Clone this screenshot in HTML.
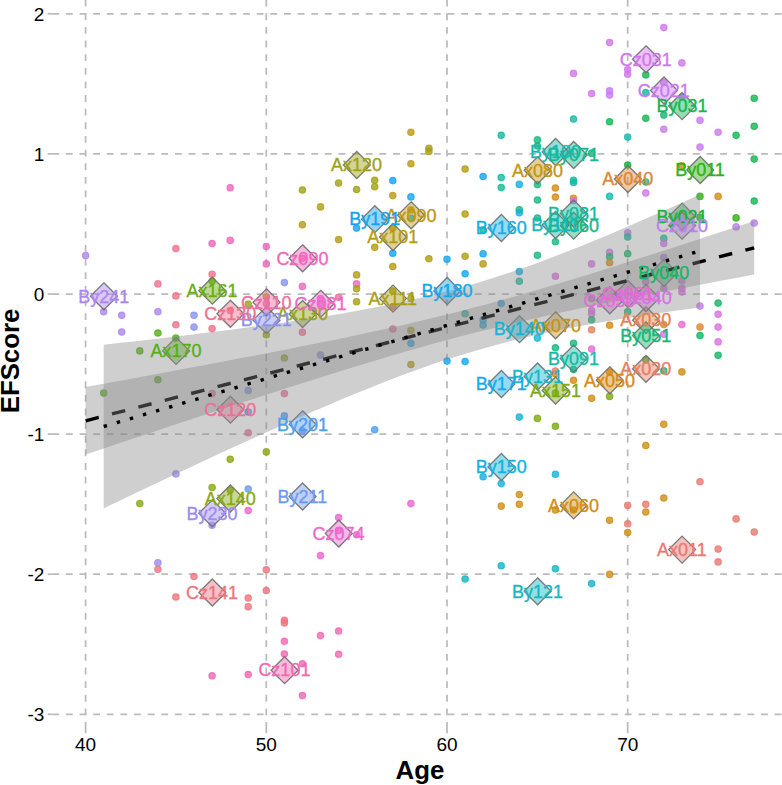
<!DOCTYPE html>
<html><head><meta charset="utf-8"><title>EFScore vs Age</title>
<style>html,body{margin:0;padding:0;background:#fff;width:782px;height:785px;overflow:hidden;font-family:"Liberation Sans",sans-serif}</style></head>
<body>
<svg width="782" height="785" viewBox="0 0 782 785" style="position:absolute;left:0;top:0">
<rect width="782" height="785" fill="#fff"/>
<g stroke="#BBBBBB" stroke-width="1.75" stroke-dasharray="6.815 6.815" fill="none">
<path d="M52.3 13.8H790"/>
<path d="M52.3 153.9H790"/>
<path d="M52.3 294.0H790"/>
<path d="M52.3 434.1H790"/>
<path d="M52.3 574.2H790"/>
<path d="M52.3 714.3H790"/>
<path d="M85.6 728.9V-5"/>
<path d="M266.3 728.9V-5"/>
<path d="M447.0 728.9V-5"/>
<path d="M627.7 728.9V-5"/>
</g>
<g stroke="#BBBBBB" stroke-width="1.75" fill="none">
<path d="M47.7 13.8H52.3"/>
<path d="M47.7 153.9H52.3"/>
<path d="M47.7 294.0H52.3"/>
<path d="M47.7 434.1H52.3"/>
<path d="M47.7 574.2H52.3"/>
<path d="M47.7 714.3H52.3"/>
<path d="M85.6 728.9V733.2"/>
<path d="M266.3 728.9V733.2"/>
<path d="M447.0 728.9V733.2"/>
<path d="M627.7 728.9V733.2"/>
</g>
<g fill-opacity="0.80" stroke-opacity="0.80" stroke-width="1.2">
<circle cx="85.6" cy="255.5" r="3.2" fill="#AE86EF" stroke="#AE86EF"/>
<circle cx="103.7" cy="311.8" r="3.2" fill="#AE86EF" stroke="#AE86EF"/>
<circle cx="121.7" cy="315.3" r="3.2" fill="#AE86EF" stroke="#AE86EF"/>
<circle cx="121.7" cy="332.0" r="3.2" fill="#AE86EF" stroke="#AE86EF"/>
<circle cx="157.9" cy="311.8" r="3.2" fill="#AE86EF" stroke="#AE86EF"/>
<circle cx="175.9" cy="248.6" r="3.2" fill="#EE728D" stroke="#EE728D"/>
<circle cx="157.9" cy="283.9" r="3.2" fill="#EE728D" stroke="#EE728D"/>
<circle cx="175.9" cy="295.9" r="3.2" fill="#EE728D" stroke="#EE728D"/>
<circle cx="175.9" cy="324.8" r="3.2" fill="#EE728D" stroke="#EE728D"/>
<circle cx="194.0" cy="315.3" r="3.2" fill="#8A92EF" stroke="#8A92EF"/>
<circle cx="194.0" cy="327.1" r="3.2" fill="#8A92EF" stroke="#8A92EF"/>
<circle cx="157.9" cy="333.0" r="3.2" fill="#54AF14" stroke="#54AF14"/>
<circle cx="175.9" cy="338.1" r="3.2" fill="#54AF14" stroke="#54AF14"/>
<circle cx="139.8" cy="350.9" r="3.2" fill="#54AF14" stroke="#54AF14"/>
<circle cx="157.9" cy="379.8" r="3.2" fill="#54AF14" stroke="#54AF14"/>
<circle cx="103.7" cy="393.1" r="3.2" fill="#54AF14" stroke="#54AF14"/>
<circle cx="139.8" cy="503.6" r="3.2" fill="#89A814" stroke="#89A814"/>
<circle cx="175.9" cy="473.9" r="3.2" fill="#9E8CEF" stroke="#9E8CEF"/>
<circle cx="157.9" cy="562.7" r="3.2" fill="#9E8CEF" stroke="#9E8CEF"/>
<circle cx="157.9" cy="569.3" r="3.2" fill="#EC7680" stroke="#EC7680"/>
<circle cx="194.0" cy="576.5" r="3.2" fill="#EC7680" stroke="#EC7680"/>
<circle cx="175.9" cy="597.0" r="3.2" fill="#EC7680" stroke="#EC7680"/>
<circle cx="230.2" cy="187.7" r="3.2" fill="#EF67BB" stroke="#EF67BB"/>
<circle cx="302.4" cy="190.0" r="3.2" fill="#A0A214" stroke="#A0A214"/>
<circle cx="338.6" cy="183.1" r="3.2" fill="#A0A214" stroke="#A0A214"/>
<circle cx="356.6" cy="189.5" r="3.2" fill="#A0A214" stroke="#A0A214"/>
<circle cx="374.7" cy="180.3" r="3.2" fill="#A0A214" stroke="#A0A214"/>
<circle cx="374.7" cy="186.7" r="3.2" fill="#A0A214" stroke="#A0A214"/>
<circle cx="392.8" cy="180.6" r="3.2" fill="#14A3EF" stroke="#14A3EF"/>
<circle cx="392.8" cy="195.6" r="3.2" fill="#BC9814" stroke="#BC9814"/>
<circle cx="320.5" cy="206.9" r="3.2" fill="#B39C14" stroke="#B39C14"/>
<circle cx="302.4" cy="224.8" r="3.2" fill="#B39C14" stroke="#B39C14"/>
<circle cx="338.6" cy="239.6" r="3.2" fill="#B39C14" stroke="#B39C14"/>
<circle cx="374.7" cy="247.3" r="3.2" fill="#B39C14" stroke="#B39C14"/>
<circle cx="356.6" cy="228.1" r="3.2" fill="#14A3EF" stroke="#14A3EF"/>
<circle cx="392.8" cy="253.2" r="3.2" fill="#14A3EF" stroke="#14A3EF"/>
<circle cx="392.8" cy="266.5" r="3.2" fill="#B39C14" stroke="#B39C14"/>
<circle cx="356.6" cy="274.9" r="3.2" fill="#B39C14" stroke="#B39C14"/>
<circle cx="356.6" cy="283.9" r="3.2" fill="#EE67C4" stroke="#EE67C4"/>
<circle cx="356.6" cy="288.7" r="3.2" fill="#AA9F14" stroke="#AA9F14"/>
<circle cx="356.6" cy="301.8" r="3.2" fill="#AA9F14" stroke="#AA9F14"/>
<circle cx="212.1" cy="243.5" r="3.2" fill="#EF67BB" stroke="#EF67BB"/>
<circle cx="230.2" cy="240.4" r="3.2" fill="#EF67BB" stroke="#EF67BB"/>
<circle cx="266.3" cy="246.5" r="3.2" fill="#EF67BB" stroke="#EF67BB"/>
<circle cx="266.3" cy="263.9" r="3.2" fill="#EF67BB" stroke="#EF67BB"/>
<circle cx="302.4" cy="258.3" r="3.2" fill="#EF67BB" stroke="#EF67BB"/>
<circle cx="212.1" cy="274.2" r="3.2" fill="#EE728D" stroke="#EE728D"/>
<circle cx="212.1" cy="281.3" r="3.2" fill="#6AAD14" stroke="#6AAD14"/>
<circle cx="284.4" cy="282.6" r="3.2" fill="#8A92EF" stroke="#8A92EF"/>
<circle cx="302.4" cy="286.4" r="3.2" fill="#EF67BB" stroke="#EF67BB"/>
<circle cx="338.6" cy="297.2" r="3.2" fill="#EF6E99" stroke="#EF6E99"/>
<circle cx="266.3" cy="296.7" r="3.2" fill="#95A514" stroke="#95A514"/>
<circle cx="266.3" cy="303.6" r="3.2" fill="#EF6CA5" stroke="#EF6CA5"/>
<circle cx="230.2" cy="310.5" r="3.2" fill="#EE728D" stroke="#EE728D"/>
<circle cx="248.2" cy="304.1" r="3.2" fill="#95A514" stroke="#95A514"/>
<circle cx="320.5" cy="298.5" r="3.2" fill="#EE67C4" stroke="#EE67C4"/>
<circle cx="320.5" cy="303.6" r="3.2" fill="#EE67C4" stroke="#EE67C4"/>
<circle cx="266.3" cy="334.8" r="3.2" fill="#95A514" stroke="#95A514"/>
<circle cx="212.1" cy="328.6" r="3.2" fill="#EE728D" stroke="#EE728D"/>
<circle cx="302.4" cy="332.2" r="3.2" fill="#EF6E99" stroke="#EF6E99"/>
<circle cx="392.8" cy="329.0" r="3.2" fill="#EF6E99" stroke="#EF6E99"/>
<circle cx="284.4" cy="358.0" r="3.2" fill="#95A514" stroke="#95A514"/>
<circle cx="320.5" cy="355.0" r="3.2" fill="#8A92EF" stroke="#8A92EF"/>
<circle cx="248.2" cy="390.5" r="3.2" fill="#8A92EF" stroke="#8A92EF"/>
<circle cx="212.1" cy="393.6" r="3.2" fill="#EF6E99" stroke="#EF6E99"/>
<circle cx="284.4" cy="393.6" r="3.2" fill="#EF6E99" stroke="#EF6E99"/>
<circle cx="248.2" cy="412.0" r="3.2" fill="#4E9EEF" stroke="#4E9EEF"/>
<circle cx="284.4" cy="415.9" r="3.2" fill="#4E9EEF" stroke="#4E9EEF"/>
<circle cx="248.2" cy="432.7" r="3.2" fill="#EF6E99" stroke="#EF6E99"/>
<circle cx="302.4" cy="430.7" r="3.2" fill="#8A92EF" stroke="#8A92EF"/>
<circle cx="374.7" cy="429.7" r="3.2" fill="#4E9EEF" stroke="#4E9EEF"/>
<circle cx="266.3" cy="451.9" r="3.2" fill="#89A814" stroke="#89A814"/>
<circle cx="230.2" cy="459.3" r="3.2" fill="#89A814" stroke="#89A814"/>
<circle cx="212.1" cy="487.5" r="3.2" fill="#89A814" stroke="#89A814"/>
<circle cx="230.2" cy="490.0" r="3.2" fill="#89A814" stroke="#89A814"/>
<circle cx="248.2" cy="489.0" r="3.2" fill="#7198EF" stroke="#7198EF"/>
<circle cx="248.2" cy="510.5" r="3.2" fill="#EC67CE" stroke="#EC67CE"/>
<circle cx="212.1" cy="525.3" r="3.2" fill="#9E8CEF" stroke="#9E8CEF"/>
<circle cx="338.6" cy="517.6" r="3.2" fill="#EC67CE" stroke="#EC67CE"/>
<circle cx="338.6" cy="530.4" r="3.2" fill="#EC67CE" stroke="#EC67CE"/>
<circle cx="356.6" cy="534.8" r="3.2" fill="#EC67CE" stroke="#EC67CE"/>
<circle cx="320.5" cy="555.5" r="3.2" fill="#EC67CE" stroke="#EC67CE"/>
<circle cx="266.3" cy="569.8" r="3.2" fill="#EC7680" stroke="#EC7680"/>
<circle cx="266.3" cy="590.5" r="3.2" fill="#EC7680" stroke="#EC7680"/>
<circle cx="248.2" cy="598.0" r="3.2" fill="#EC7680" stroke="#EC7680"/>
<circle cx="248.2" cy="606.7" r="3.2" fill="#EC7680" stroke="#EC7680"/>
<circle cx="284.4" cy="620.3" r="3.2" fill="#EC7680" stroke="#EC7680"/>
<circle cx="284.4" cy="622.9" r="3.2" fill="#EC7680" stroke="#EC7680"/>
<circle cx="284.4" cy="641.3" r="3.2" fill="#EF69B1" stroke="#EF69B1"/>
<circle cx="284.4" cy="654.0" r="3.2" fill="#EF69B1" stroke="#EF69B1"/>
<circle cx="320.5" cy="635.6" r="3.2" fill="#EF69B1" stroke="#EF69B1"/>
<circle cx="338.6" cy="631.0" r="3.2" fill="#EF69B1" stroke="#EF69B1"/>
<circle cx="338.6" cy="654.3" r="3.2" fill="#EF69B1" stroke="#EF69B1"/>
<circle cx="302.4" cy="663.8" r="3.2" fill="#EF69B1" stroke="#EF69B1"/>
<circle cx="212.1" cy="675.8" r="3.2" fill="#EF69B1" stroke="#EF69B1"/>
<circle cx="248.2" cy="674.5" r="3.2" fill="#EF69B1" stroke="#EF69B1"/>
<circle cx="302.4" cy="695.5" r="3.2" fill="#EF69B1" stroke="#EF69B1"/>
<circle cx="410.9" cy="132.2" r="3.2" fill="#BC9814" stroke="#BC9814"/>
<circle cx="410.9" cy="163.7" r="3.2" fill="#BC9814" stroke="#BC9814"/>
<circle cx="428.9" cy="148.3" r="3.2" fill="#AA9F14" stroke="#AA9F14"/>
<circle cx="428.9" cy="151.4" r="3.2" fill="#AA9F14" stroke="#AA9F14"/>
<circle cx="410.9" cy="196.9" r="3.2" fill="#14A7EE" stroke="#14A7EE"/>
<circle cx="465.1" cy="169.0" r="3.2" fill="#B39C14" stroke="#B39C14"/>
<circle cx="483.1" cy="176.5" r="3.2" fill="#14A7EE" stroke="#14A7EE"/>
<circle cx="501.2" cy="135.3" r="3.2" fill="#14BAA4" stroke="#14BAA4"/>
<circle cx="501.2" cy="177.5" r="3.2" fill="#14BAA4" stroke="#14BAA4"/>
<circle cx="501.2" cy="187.5" r="3.2" fill="#14BA98" stroke="#14BA98"/>
<circle cx="519.3" cy="184.4" r="3.2" fill="#14AFE2" stroke="#14AFE2"/>
<circle cx="537.4" cy="139.9" r="3.2" fill="#14B880" stroke="#14B880"/>
<circle cx="537.4" cy="146.0" r="3.2" fill="#14B880" stroke="#14B880"/>
<circle cx="537.4" cy="184.6" r="3.2" fill="#14B880" stroke="#14B880"/>
<circle cx="537.4" cy="200.0" r="3.2" fill="#14B880" stroke="#14B880"/>
<circle cx="555.4" cy="188.0" r="3.2" fill="#D68A14" stroke="#D68A14"/>
<circle cx="555.4" cy="197.0" r="3.2" fill="#D68A14" stroke="#D68A14"/>
<circle cx="573.5" cy="119.0" r="3.2" fill="#14BAA4" stroke="#14BAA4"/>
<circle cx="573.5" cy="180.3" r="3.2" fill="#14BAA4" stroke="#14BAA4"/>
<circle cx="573.5" cy="182.5" r="3.2" fill="#14BAA4" stroke="#14BAA4"/>
<circle cx="573.5" cy="198.2" r="3.2" fill="#D08E14" stroke="#D08E14"/>
<circle cx="573.5" cy="200.8" r="3.2" fill="#E26DDE" stroke="#E26DDE"/>
<circle cx="573.5" cy="73.4" r="3.2" fill="#D275EB" stroke="#D275EB"/>
<circle cx="591.6" cy="93.6" r="3.2" fill="#D275EB" stroke="#D275EB"/>
<circle cx="591.6" cy="153.4" r="3.2" fill="#14B773" stroke="#14B773"/>
<circle cx="519.3" cy="209.7" r="3.2" fill="#14B880" stroke="#14B880"/>
<circle cx="519.3" cy="212.8" r="3.2" fill="#14AFE2" stroke="#14AFE2"/>
<circle cx="465.1" cy="214.0" r="3.2" fill="#B39C14" stroke="#B39C14"/>
<circle cx="483.1" cy="230.0" r="3.2" fill="#14B880" stroke="#14B880"/>
<circle cx="537.4" cy="218.0" r="3.2" fill="#14B880" stroke="#14B880"/>
<circle cx="555.4" cy="241.7" r="3.2" fill="#14B880" stroke="#14B880"/>
<circle cx="537.4" cy="255.2" r="3.2" fill="#14B880" stroke="#14B880"/>
<circle cx="428.9" cy="258.8" r="3.2" fill="#B39C14" stroke="#B39C14"/>
<circle cx="447.0" cy="259.3" r="3.2" fill="#14A7EE" stroke="#14A7EE"/>
<circle cx="465.1" cy="256.3" r="3.2" fill="#B39C14" stroke="#B39C14"/>
<circle cx="483.1" cy="253.7" r="3.2" fill="#14A7EE" stroke="#14A7EE"/>
<circle cx="483.1" cy="263.9" r="3.2" fill="#B39C14" stroke="#B39C14"/>
<circle cx="465.1" cy="273.7" r="3.2" fill="#14A7EE" stroke="#14A7EE"/>
<circle cx="519.3" cy="271.6" r="3.2" fill="#14AFE2" stroke="#14AFE2"/>
<circle cx="519.3" cy="281.3" r="3.2" fill="#14BA98" stroke="#14BA98"/>
<circle cx="555.4" cy="276.2" r="3.2" fill="#E26DDE" stroke="#E26DDE"/>
<circle cx="591.6" cy="263.9" r="3.2" fill="#DB70E5" stroke="#DB70E5"/>
<circle cx="501.2" cy="303.6" r="3.2" fill="#14A7EE" stroke="#14A7EE"/>
<circle cx="465.1" cy="313.8" r="3.2" fill="#14BAA4" stroke="#14BAA4"/>
<circle cx="483.1" cy="320.0" r="3.2" fill="#14AFE2" stroke="#14AFE2"/>
<circle cx="483.1" cy="325.0" r="3.2" fill="#14AFE2" stroke="#14AFE2"/>
<circle cx="410.9" cy="330.4" r="3.2" fill="#B39C14" stroke="#B39C14"/>
<circle cx="410.9" cy="343.2" r="3.2" fill="#14A7EE" stroke="#14A7EE"/>
<circle cx="410.9" cy="364.5" r="3.2" fill="#B39C14" stroke="#B39C14"/>
<circle cx="447.0" cy="361.1" r="3.2" fill="#14A7EE" stroke="#14A7EE"/>
<circle cx="465.1" cy="361.6" r="3.2" fill="#14A7EE" stroke="#14A7EE"/>
<circle cx="537.4" cy="338.1" r="3.2" fill="#14B4D3" stroke="#14B4D3"/>
<circle cx="555.4" cy="347.8" r="3.2" fill="#14B880" stroke="#14B880"/>
<circle cx="573.5" cy="343.2" r="3.2" fill="#14B880" stroke="#14B880"/>
<circle cx="591.6" cy="310.5" r="3.2" fill="#DB70E5" stroke="#DB70E5"/>
<circle cx="591.6" cy="313.8" r="3.2" fill="#DB70E5" stroke="#DB70E5"/>
<circle cx="591.6" cy="319.7" r="3.2" fill="#14B773" stroke="#14B773"/>
<circle cx="591.6" cy="329.7" r="3.2" fill="#E67E62" stroke="#E67E62"/>
<circle cx="591.6" cy="349.1" r="3.2" fill="#E869D6" stroke="#E869D6"/>
<circle cx="555.4" cy="373.9" r="3.2" fill="#D68A14" stroke="#D68A14"/>
<circle cx="573.5" cy="380.3" r="3.2" fill="#D68A14" stroke="#D68A14"/>
<circle cx="555.4" cy="371.0" r="3.2" fill="#E67E62" stroke="#E67E62"/>
<circle cx="519.3" cy="417.1" r="3.2" fill="#14B4D3" stroke="#14B4D3"/>
<circle cx="537.4" cy="418.4" r="3.2" fill="#7AAA14" stroke="#7AAA14"/>
<circle cx="555.4" cy="426.3" r="3.2" fill="#7AAA14" stroke="#7AAA14"/>
<circle cx="483.1" cy="476.7" r="3.2" fill="#14B1DB" stroke="#14B1DB"/>
<circle cx="501.2" cy="483.6" r="3.2" fill="#14B1DB" stroke="#14B1DB"/>
<circle cx="555.4" cy="474.2" r="3.2" fill="#14B1DB" stroke="#14B1DB"/>
<circle cx="519.3" cy="494.6" r="3.2" fill="#D08E14" stroke="#D08E14"/>
<circle cx="519.3" cy="504.3" r="3.2" fill="#D08E14" stroke="#D08E14"/>
<circle cx="501.2" cy="506.1" r="3.2" fill="#D08E14" stroke="#D08E14"/>
<circle cx="410.9" cy="503.6" r="3.2" fill="#EC67CE" stroke="#EC67CE"/>
<circle cx="555.4" cy="510.0" r="3.2" fill="#D08E14" stroke="#D08E14"/>
<circle cx="573.5" cy="510.0" r="3.2" fill="#D08E14" stroke="#D08E14"/>
<circle cx="501.2" cy="565.7" r="3.2" fill="#14B7C2" stroke="#14B7C2"/>
<circle cx="555.4" cy="568.8" r="3.2" fill="#14B7C2" stroke="#14B7C2"/>
<circle cx="465.1" cy="579.0" r="3.2" fill="#14B7C2" stroke="#14B7C2"/>
<circle cx="591.6" cy="583.6" r="3.2" fill="#14B7C2" stroke="#14B7C2"/>
<circle cx="663.8" cy="27.6" r="3.2" fill="#D275EB" stroke="#D275EB"/>
<circle cx="609.6" cy="42.5" r="3.2" fill="#D275EB" stroke="#D275EB"/>
<circle cx="681.9" cy="62.9" r="3.2" fill="#D275EB" stroke="#D275EB"/>
<circle cx="627.7" cy="69.6" r="3.2" fill="#D275EB" stroke="#D275EB"/>
<circle cx="627.7" cy="74.2" r="3.2" fill="#D275EB" stroke="#D275EB"/>
<circle cx="645.8" cy="74.9" r="3.2" fill="#14B552" stroke="#14B552"/>
<circle cx="663.8" cy="82.4" r="3.2" fill="#C87AEF" stroke="#C87AEF"/>
<circle cx="645.8" cy="92.6" r="3.2" fill="#14BA98" stroke="#14BA98"/>
<circle cx="609.6" cy="90.8" r="3.2" fill="#C87AEF" stroke="#C87AEF"/>
<circle cx="609.6" cy="95.1" r="3.2" fill="#C87AEF" stroke="#C87AEF"/>
<circle cx="681.9" cy="96.7" r="3.2" fill="#C87AEF" stroke="#C87AEF"/>
<circle cx="663.8" cy="115.1" r="3.2" fill="#14B773" stroke="#14B773"/>
<circle cx="645.8" cy="118.2" r="3.2" fill="#14B552" stroke="#14B552"/>
<circle cx="609.6" cy="121.7" r="3.2" fill="#14B552" stroke="#14B552"/>
<circle cx="700.0" cy="120.2" r="3.2" fill="#C87AEF" stroke="#C87AEF"/>
<circle cx="663.8" cy="129.2" r="3.2" fill="#C87AEF" stroke="#C87AEF"/>
<circle cx="718.1" cy="132.2" r="3.2" fill="#C87AEF" stroke="#C87AEF"/>
<circle cx="736.1" cy="135.3" r="3.2" fill="#14B552" stroke="#14B552"/>
<circle cx="754.2" cy="98.2" r="3.2" fill="#14B552" stroke="#14B552"/>
<circle cx="754.2" cy="126.3" r="3.2" fill="#14B552" stroke="#14B552"/>
<circle cx="754.2" cy="159.1" r="3.2" fill="#14B552" stroke="#14B552"/>
<circle cx="627.7" cy="137.1" r="3.2" fill="#14B9AE" stroke="#14B9AE"/>
<circle cx="700.0" cy="147.1" r="3.2" fill="#C87AEF" stroke="#C87AEF"/>
<circle cx="627.7" cy="165.0" r="3.2" fill="#14B33C" stroke="#14B33C"/>
<circle cx="645.8" cy="182.0" r="3.2" fill="#14BA98" stroke="#14BA98"/>
<circle cx="681.9" cy="165.7" r="3.2" fill="#D68A14" stroke="#D68A14"/>
<circle cx="645.8" cy="193.0" r="3.2" fill="#D275EB" stroke="#D275EB"/>
<circle cx="609.6" cy="196.4" r="3.2" fill="#14B9AE" stroke="#14B9AE"/>
<circle cx="700.0" cy="196.4" r="3.2" fill="#2FB114" stroke="#2FB114"/>
<circle cx="718.1" cy="196.4" r="3.2" fill="#D68A14" stroke="#D68A14"/>
<circle cx="754.2" cy="201.0" r="3.2" fill="#14B552" stroke="#14B552"/>
<circle cx="736.1" cy="217.9" r="3.2" fill="#2FB114" stroke="#2FB114"/>
<circle cx="736.1" cy="226.9" r="3.2" fill="#BC80EF" stroke="#BC80EF"/>
<circle cx="754.2" cy="223.0" r="3.2" fill="#BC80EF" stroke="#BC80EF"/>
<circle cx="700.0" cy="217.4" r="3.2" fill="#2FB114" stroke="#2FB114"/>
<circle cx="627.7" cy="232.7" r="3.2" fill="#BC80EF" stroke="#BC80EF"/>
<circle cx="627.7" cy="237.0" r="3.2" fill="#14BA98" stroke="#14BA98"/>
<circle cx="663.8" cy="238.4" r="3.2" fill="#14BA98" stroke="#14BA98"/>
<circle cx="663.8" cy="243.5" r="3.2" fill="#C87AEF" stroke="#C87AEF"/>
<circle cx="609.6" cy="252.4" r="3.2" fill="#DB70E5" stroke="#DB70E5"/>
<circle cx="609.6" cy="256.8" r="3.2" fill="#14B763" stroke="#14B763"/>
<circle cx="609.6" cy="262.7" r="3.2" fill="#D68A14" stroke="#D68A14"/>
<circle cx="627.7" cy="253.7" r="3.2" fill="#14B763" stroke="#14B763"/>
<circle cx="663.8" cy="257.5" r="3.2" fill="#BC80EF" stroke="#BC80EF"/>
<circle cx="645.8" cy="281.8" r="3.2" fill="#DB70E5" stroke="#DB70E5"/>
<circle cx="681.9" cy="280.6" r="3.2" fill="#DB70E5" stroke="#DB70E5"/>
<circle cx="681.9" cy="288.2" r="3.2" fill="#DB70E5" stroke="#DB70E5"/>
<circle cx="681.9" cy="292.0" r="3.2" fill="#DB70E5" stroke="#DB70E5"/>
<circle cx="663.8" cy="288.2" r="3.2" fill="#DB70E5" stroke="#DB70E5"/>
<circle cx="591.6" cy="298.5" r="3.2" fill="#E26DDE" stroke="#E26DDE"/>
<circle cx="627.7" cy="311.8" r="3.2" fill="#14B773" stroke="#14B773"/>
<circle cx="609.6" cy="325.3" r="3.2" fill="#D68A14" stroke="#D68A14"/>
<circle cx="700.0" cy="306.1" r="3.2" fill="#C87AEF" stroke="#C87AEF"/>
<circle cx="718.1" cy="303.1" r="3.2" fill="#14B763" stroke="#14B763"/>
<circle cx="718.1" cy="314.3" r="3.2" fill="#DB70E5" stroke="#DB70E5"/>
<circle cx="718.1" cy="327.1" r="3.2" fill="#DB70E5" stroke="#DB70E5"/>
<circle cx="718.1" cy="341.9" r="3.2" fill="#DB70E5" stroke="#DB70E5"/>
<circle cx="718.1" cy="355.2" r="3.2" fill="#14B763" stroke="#14B763"/>
<circle cx="681.9" cy="324.6" r="3.2" fill="#E869D6" stroke="#E869D6"/>
<circle cx="663.8" cy="324.6" r="3.2" fill="#DC8636" stroke="#DC8636"/>
<circle cx="700.0" cy="327.1" r="3.2" fill="#DC8636" stroke="#DC8636"/>
<circle cx="700.0" cy="335.5" r="3.2" fill="#14B763" stroke="#14B763"/>
<circle cx="663.8" cy="334.3" r="3.2" fill="#DB70E5" stroke="#DB70E5"/>
<circle cx="645.8" cy="359.8" r="3.2" fill="#14B33C" stroke="#14B33C"/>
<circle cx="663.8" cy="370.8" r="3.2" fill="#14B773" stroke="#14B773"/>
<circle cx="681.9" cy="371.9" r="3.2" fill="#D08E14" stroke="#D08E14"/>
<circle cx="591.6" cy="398.2" r="3.2" fill="#D68A14" stroke="#D68A14"/>
<circle cx="609.6" cy="396.4" r="3.2" fill="#7AAA14" stroke="#7AAA14"/>
<circle cx="573.5" cy="369.5" r="3.2" fill="#14B880" stroke="#14B880"/>
<circle cx="555.4" cy="393.0" r="3.2" fill="#7AAA14" stroke="#7AAA14"/>
<circle cx="609.6" cy="372.0" r="3.2" fill="#D68A14" stroke="#D68A14"/>
<circle cx="410.9" cy="209.9" r="3.2" fill="#BC9814" stroke="#BC9814"/>
<circle cx="410.9" cy="218.1" r="3.2" fill="#14B4D3" stroke="#14B4D3"/>
<circle cx="392.8" cy="228.0" r="3.2" fill="#B39C14" stroke="#B39C14"/>
<circle cx="392.8" cy="291.0" r="3.2" fill="#AA9F14" stroke="#AA9F14"/>
<circle cx="392.8" cy="306.7" r="3.2" fill="#EF6E99" stroke="#EF6E99"/>
<circle cx="410.9" cy="298.5" r="3.2" fill="#AA9F14" stroke="#AA9F14"/>
<circle cx="663.8" cy="424.3" r="3.2" fill="#D08E14" stroke="#D08E14"/>
<circle cx="645.8" cy="445.5" r="3.2" fill="#D08E14" stroke="#D08E14"/>
<circle cx="700.0" cy="481.8" r="3.2" fill="#E97972" stroke="#E97972"/>
<circle cx="663.8" cy="498.0" r="3.2" fill="#D08E14" stroke="#D08E14"/>
<circle cx="627.7" cy="505.4" r="3.2" fill="#E97972" stroke="#E97972"/>
<circle cx="645.8" cy="504.3" r="3.2" fill="#E97972" stroke="#E97972"/>
<circle cx="645.8" cy="512.0" r="3.2" fill="#D08E14" stroke="#D08E14"/>
<circle cx="609.6" cy="520.2" r="3.2" fill="#D08E14" stroke="#D08E14"/>
<circle cx="627.7" cy="523.8" r="3.2" fill="#E97972" stroke="#E97972"/>
<circle cx="627.7" cy="532.5" r="3.2" fill="#D08E14" stroke="#D08E14"/>
<circle cx="736.1" cy="518.9" r="3.2" fill="#E97972" stroke="#E97972"/>
<circle cx="754.2" cy="532.0" r="3.2" fill="#E97972" stroke="#E97972"/>
<circle cx="718.1" cy="549.1" r="3.2" fill="#E97972" stroke="#E97972"/>
<circle cx="718.1" cy="561.9" r="3.2" fill="#E97972" stroke="#E97972"/>
<circle cx="609.6" cy="574.4" r="3.2" fill="#D08E14" stroke="#D08E14"/>
</g>
<g stroke="#6E6E6E" stroke-width="1.3" fill-opacity="0.45" stroke-opacity="0.9">
<path d="M682.1 536.1L695.6 549.6L682.1 563.1L668.6 549.6Z" fill="#E97972"/>
<path d="M646.0 355.3L659.5 368.8L646.0 382.3L632.5 368.8Z" fill="#E67E62"/>
<path d="M646.0 306.7L659.5 320.2L646.0 333.7L632.5 320.2Z" fill="#E1824F"/>
<path d="M627.9 165.5L641.4 179.0L627.9 192.5L614.4 179.0Z" fill="#DC8636"/>
<path d="M609.8 366.8L623.3 380.3L609.8 393.8L596.3 380.3Z" fill="#D68A14"/>
<path d="M573.7 491.9L587.2 505.4L573.7 518.9L560.2 505.4Z" fill="#D08E14"/>
<path d="M555.6 311.8L569.1 325.3L555.6 338.8L542.1 325.3Z" fill="#CA9214"/>
<path d="M537.6 156.8L551.1 170.3L537.6 183.8L524.1 170.3Z" fill="#C39514"/>
<path d="M411.1 201.8L424.6 215.3L411.1 228.8L397.6 215.3Z" fill="#BC9814"/>
<path d="M393.0 223.5L406.5 237.0L393.0 250.5L379.5 237.0Z" fill="#B39C14"/>
<path d="M393.0 285.1L406.5 298.6L393.0 312.1L379.5 298.6Z" fill="#AA9F14"/>
<path d="M356.8 151.5L370.3 165.0L356.8 178.5L343.3 165.0Z" fill="#A0A214"/>
<path d="M302.6 300.5L316.1 314.0L302.6 327.5L289.1 314.0Z" fill="#95A514"/>
<path d="M230.4 485.0L243.9 498.5L230.4 512.0L216.9 498.5Z" fill="#89A814"/>
<path d="M555.6 377.0L569.1 390.5L555.6 404.0L542.1 390.5Z" fill="#7AAA14"/>
<path d="M212.3 277.2L225.8 290.7L212.3 304.2L198.8 290.7Z" fill="#6AAD14"/>
<path d="M176.1 337.4L189.6 350.9L176.1 364.4L162.6 350.9Z" fill="#54AF14"/>
<path d="M700.2 156.5L713.7 170.0L700.2 183.5L686.7 170.0Z" fill="#2FB114"/>
<path d="M682.1 203.1L695.6 216.6L682.1 230.1L668.6 216.6Z" fill="#14B33C"/>
<path d="M682.1 92.6L695.6 106.1L682.1 119.6L668.6 106.1Z" fill="#14B552"/>
<path d="M664.0 259.4L677.5 272.9L664.0 286.4L650.5 272.9Z" fill="#14B763"/>
<path d="M646.0 322.0L659.5 335.5L646.0 349.0L632.5 335.5Z" fill="#14B773"/>
<path d="M573.7 212.2L587.2 225.7L573.7 239.2L560.2 225.7Z" fill="#14B880"/>
<path d="M573.7 141.5L587.2 155.0L573.7 168.5L560.2 155.0Z" fill="#14B98C"/>
<path d="M573.7 200.0L587.2 213.5L573.7 227.0L560.2 213.5Z" fill="#14BA98"/>
<path d="M573.7 345.1L587.2 358.6L573.7 372.1L560.2 358.6Z" fill="#14BAA4"/>
<path d="M555.6 138.5L569.1 152.0L555.6 165.5L542.1 152.0Z" fill="#14B9AE"/>
<path d="M555.6 211.5L569.1 225.0L555.6 238.5L542.1 225.0Z" fill="#14B9B8"/>
<path d="M537.6 577.8L551.1 591.3L537.6 604.8L524.1 591.3Z" fill="#14B7C2"/>
<path d="M537.6 363.0L551.1 376.5L537.6 390.0L524.1 376.5Z" fill="#14B7CA"/>
<path d="M519.5 315.7L533.0 329.2L519.5 342.7L506.0 329.2Z" fill="#14B4D3"/>
<path d="M501.4 453.5L514.9 467.0L501.4 480.5L487.9 467.0Z" fill="#14B1DB"/>
<path d="M501.4 214.5L514.9 228.0L501.4 241.5L487.9 228.0Z" fill="#14AFE2"/>
<path d="M501.4 370.5L514.9 384.0L501.4 397.5L487.9 384.0Z" fill="#14ABE8"/>
<path d="M447.2 277.5L460.7 291.0L447.2 304.5L433.7 291.0Z" fill="#14A7EE"/>
<path d="M374.9 205.7L388.4 219.2L374.9 232.7L361.4 219.2Z" fill="#14A3EF"/>
<path d="M302.6 410.8L316.1 424.3L302.6 437.8L289.1 424.3Z" fill="#4E9EEF"/>
<path d="M302.6 483.0L316.1 496.5L302.6 510.0L289.1 496.5Z" fill="#7198EF"/>
<path d="M266.5 306.7L280.0 320.2L266.5 333.7L253.0 320.2Z" fill="#8A92EF"/>
<path d="M212.3 499.8L225.8 513.3L212.3 526.8L198.8 513.3Z" fill="#9E8CEF"/>
<path d="M103.9 282.8L117.4 296.3L103.9 309.8L90.4 296.3Z" fill="#AE86EF"/>
<path d="M682.1 212.1L695.6 225.6L682.1 239.1L668.6 225.6Z" fill="#BC80EF"/>
<path d="M664.0 77.0L677.5 90.5L664.0 104.0L650.5 90.5Z" fill="#C87AEF"/>
<path d="M646.0 45.8L659.5 59.3L646.0 72.8L632.5 59.3Z" fill="#D275EB"/>
<path d="M646.0 284.5L659.5 298.0L646.0 311.5L632.5 298.0Z" fill="#DB70E5"/>
<path d="M609.8 286.8L623.3 300.3L609.8 313.8L596.3 300.3Z" fill="#E26DDE"/>
<path d="M627.9 280.5L641.4 294.0L627.9 307.5L614.4 294.0Z" fill="#E869D6"/>
<path d="M338.8 520.0L352.3 533.5L338.8 547.0L325.3 533.5Z" fill="#EC67CE"/>
<path d="M320.7 290.3L334.2 303.8L320.7 317.3L307.2 303.8Z" fill="#EE67C4"/>
<path d="M302.6 244.8L316.1 258.3L302.6 271.8L289.1 258.3Z" fill="#EF67BB"/>
<path d="M284.6 656.7L298.1 670.2L284.6 683.7L271.1 670.2Z" fill="#EF69B1"/>
<path d="M266.5 288.8L280.0 302.3L266.5 315.8L253.0 302.3Z" fill="#EF6CA5"/>
<path d="M230.4 396.2L243.9 409.7L230.4 423.2L216.9 409.7Z" fill="#EF6E99"/>
<path d="M230.4 300.3L243.9 313.8L230.4 327.3L216.9 313.8Z" fill="#EE728D"/>
<path d="M212.3 579.0L225.8 592.5L212.3 606.0L198.8 592.5Z" fill="#EC7680"/>
</g>
<path d="M85.6 387.1L102.3 384.0L119.0 381.0L135.7 377.9L152.5 374.8L169.2 371.7L185.9 368.6L202.6 365.4L219.3 362.3L236.0 359.1L252.7 355.9L269.5 352.7L286.2 349.4L302.9 346.1L319.6 342.8L336.3 339.4L353.0 335.9L369.8 332.3L386.5 328.7L403.2 324.9L419.9 321.1L436.6 317.1L453.3 312.9L470.0 308.6L486.8 304.2L503.5 299.6L520.2 294.9L536.9 290.1L553.6 285.1L570.3 280.1L587.0 274.9L603.8 269.7L620.5 264.5L637.2 259.1L653.9 253.8L670.6 248.4L687.3 242.9L704.0 237.5L720.8 232.0L737.5 226.5L754.2 221.0L754.2 274.6L737.5 277.7L720.8 280.8L704.0 284.0L687.3 287.2L670.6 290.4L653.9 293.6L637.2 296.9L620.5 300.3L603.8 303.6L587.0 307.1L570.3 310.6L553.6 314.2L536.9 317.9L520.2 321.7L503.5 325.7L486.8 329.7L470.0 333.9L453.3 338.3L436.6 342.8L419.9 347.5L403.2 352.3L386.5 357.2L369.8 362.2L353.0 367.3L336.3 372.5L319.6 377.7L302.9 383.0L286.2 388.3L269.5 393.7L252.7 399.2L236.0 404.6L219.3 410.1L202.6 415.6L185.9 421.1L169.2 426.6L152.5 432.2L135.7 437.8L119.0 443.3L102.3 448.9L85.6 454.5Z" fill="#878787" fill-opacity="0.4"/>
<path d="M85.6 420.8L754.2 247.8" stroke="#000" stroke-width="3.41" stroke-dasharray="13.63 13.63" fill="none"/>
<path d="M103.7 344.7L118.6 343.0L133.5 341.4L148.4 339.7L163.3 337.9L178.2 336.2L193.1 334.4L208.0 332.5L222.9 330.7L237.8 328.8L252.7 326.8L267.7 324.8L282.6 322.7L297.5 320.5L312.4 318.3L327.3 315.9L342.2 313.4L357.1 310.8L372.0 308.1L386.9 305.2L401.8 302.1L416.7 298.8L431.6 295.3L446.5 291.5L461.5 287.5L476.4 283.2L491.3 278.6L506.2 273.8L521.1 268.7L536.0 263.4L550.9 257.8L565.8 252.1L580.7 246.2L595.6 240.1L610.5 233.9L625.4 227.5L640.3 221.1L655.3 214.5L670.2 207.9L685.1 201.2L700.0 194.4L700.0 307.5L685.1 309.5L670.2 311.6L655.3 313.7L640.3 315.9L625.4 318.2L610.5 320.7L595.6 323.2L580.7 325.9L565.8 328.8L550.9 331.8L536.0 335.1L521.1 338.5L506.2 342.2L491.3 346.2L476.4 350.4L461.5 354.9L446.5 359.6L431.6 364.6L416.7 369.9L401.8 375.3L386.9 381.0L372.0 386.9L357.1 392.9L342.2 399.1L327.3 405.4L312.4 411.8L297.5 418.4L282.6 425.0L267.7 431.7L252.7 438.4L237.8 445.2L222.9 452.1L208.0 459.0L193.1 466.0L178.2 472.9L163.3 480.0L148.4 487.0L133.5 494.1L118.6 501.2L103.7 508.3Z" fill="#878787" fill-opacity="0.4"/>
<path d="M103.7 426.5L700.0 250.9" stroke="#000" stroke-width="3.41" stroke-dasharray="3.41 10.22" fill="none"/>
<g font-family="Liberation Sans, sans-serif" font-size="18" text-anchor="middle" stroke-width="0.35">
<text x="681.9" y="555.8" fill="#E97972" stroke="#E97972">Ax011</text>
<text x="645.8" y="375.0" fill="#E67E62" stroke="#E67E62">Ax020</text>
<text x="645.8" y="326.4" fill="#E1824F" stroke="#E1824F">Ax030</text>
<text x="627.7" y="185.2" fill="#DC8636" stroke="#DC8636">Ax040</text>
<text x="609.6" y="386.5" fill="#D68A14" stroke="#D68A14">Ax050</text>
<text x="573.5" y="511.6" fill="#D08E14" stroke="#D08E14">Ax060</text>
<text x="555.4" y="331.5" fill="#CA9214" stroke="#CA9214">Ax070</text>
<text x="537.4" y="176.5" fill="#C39514" stroke="#C39514">Ax080</text>
<text x="410.9" y="221.5" fill="#BC9814" stroke="#BC9814">Ax090</text>
<text x="392.8" y="243.2" fill="#B39C14" stroke="#B39C14">Ax101</text>
<text x="392.8" y="304.8" fill="#AA9F14" stroke="#AA9F14">Ax111</text>
<text x="356.6" y="171.2" fill="#A0A214" stroke="#A0A214">Ax120</text>
<text x="302.4" y="320.2" fill="#95A514" stroke="#95A514">Ax130</text>
<text x="230.2" y="504.7" fill="#89A814" stroke="#89A814">Ax140</text>
<text x="555.4" y="396.7" fill="#7AAA14" stroke="#7AAA14">Ax151</text>
<text x="212.1" y="296.9" fill="#6AAD14" stroke="#6AAD14">Ax161</text>
<text x="175.9" y="357.1" fill="#54AF14" stroke="#54AF14">Ax170</text>
<text x="700.0" y="176.2" fill="#2FB114" stroke="#2FB114">By011</text>
<text x="681.9" y="222.8" fill="#14B33C" stroke="#14B33C">By021</text>
<text x="681.9" y="112.3" fill="#14B552" stroke="#14B552">By031</text>
<text x="663.8" y="279.1" fill="#14B763" stroke="#14B763">By040</text>
<text x="645.8" y="341.7" fill="#14B773" stroke="#14B773">By051</text>
<text x="573.5" y="231.9" fill="#14B880" stroke="#14B880">By060</text>
<text x="573.5" y="161.2" fill="#14B98C" stroke="#14B98C">By071</text>
<text x="573.5" y="219.7" fill="#14BA98" stroke="#14BA98">By081</text>
<text x="573.5" y="364.8" fill="#14BAA4" stroke="#14BAA4">By091</text>
<text x="555.4" y="158.2" fill="#14B9AE" stroke="#14B9AE">By100</text>
<text x="555.4" y="231.2" fill="#14B9B8" stroke="#14B9B8">By111</text>
<text x="537.4" y="597.5" fill="#14B7C2" stroke="#14B7C2">By121</text>
<text x="537.4" y="382.7" fill="#14B7CA" stroke="#14B7CA">By131</text>
<text x="519.3" y="335.4" fill="#14B4D3" stroke="#14B4D3">By140</text>
<text x="501.2" y="473.2" fill="#14B1DB" stroke="#14B1DB">By150</text>
<text x="501.2" y="234.2" fill="#14AFE2" stroke="#14AFE2">By160</text>
<text x="501.2" y="390.2" fill="#14ABE8" stroke="#14ABE8">By171</text>
<text x="447.0" y="297.2" fill="#14A7EE" stroke="#14A7EE">By180</text>
<text x="374.7" y="225.4" fill="#14A3EF" stroke="#14A3EF">By191</text>
<text x="302.4" y="430.5" fill="#4E9EEF" stroke="#4E9EEF">By201</text>
<text x="302.4" y="502.7" fill="#7198EF" stroke="#7198EF">By211</text>
<text x="266.3" y="326.4" fill="#8A92EF" stroke="#8A92EF">By221</text>
<text x="212.1" y="519.5" fill="#9E8CEF" stroke="#9E8CEF">By230</text>
<text x="103.7" y="302.5" fill="#AE86EF" stroke="#AE86EF">By241</text>
<text x="681.9" y="231.8" fill="#BC80EF" stroke="#BC80EF">Cz010</text>
<text x="663.8" y="96.7" fill="#C87AEF" stroke="#C87AEF">Cz021</text>
<text x="645.8" y="65.5" fill="#D275EB" stroke="#D275EB">Cz031</text>
<text x="645.8" y="304.2" fill="#DB70E5" stroke="#DB70E5">Cz040</text>
<text x="609.6" y="306.5" fill="#E26DDE" stroke="#E26DDE">Cz050</text>
<text x="627.7" y="300.2" fill="#E869D6" stroke="#E869D6">Cz061</text>
<text x="338.6" y="539.7" fill="#EC67CE" stroke="#EC67CE">Cz074</text>
<text x="320.5" y="310.0" fill="#EE67C4" stroke="#EE67C4">Cz081</text>
<text x="302.4" y="264.5" fill="#EF67BB" stroke="#EF67BB">Cz090</text>
<text x="284.4" y="676.4" fill="#EF69B1" stroke="#EF69B1">Cz101</text>
<text x="266.3" y="308.5" fill="#EF6CA5" stroke="#EF6CA5">Cz110</text>
<text x="230.2" y="415.9" fill="#EF6E99" stroke="#EF6E99">Cz120</text>
<text x="230.2" y="320.0" fill="#EE728D" stroke="#EE728D">Cz130</text>
<text x="212.1" y="598.7" fill="#EC7680" stroke="#EC7680">Cz141</text>
</g>
<g font-family="Liberation Sans, sans-serif" font-size="19" fill="#000">
<text x="44.4" y="20.6" text-anchor="end">2</text>
<text x="44.4" y="160.7" text-anchor="end">1</text>
<text x="44.4" y="300.8" text-anchor="end">0</text>
<text x="44.4" y="440.9" text-anchor="end">-1</text>
<text x="44.4" y="581.0" text-anchor="end">-2</text>
<text x="44.4" y="721.1" text-anchor="end">-3</text>
<text x="85.6" y="750.5" text-anchor="middle">40</text>
<text x="266.3" y="750.5" text-anchor="middle">50</text>
<text x="447.0" y="750.5" text-anchor="middle">60</text>
<text x="627.7" y="750.5" text-anchor="middle">70</text>
</g>
<g font-family="Liberation Sans, sans-serif" font-weight="bold" font-size="25.8" fill="#000" text-anchor="middle">
<text x="419.9" y="778.8">Age</text>
<text transform="translate(18.8 361) rotate(-90)">EFScore</text>
</g>
</svg>
</body></html>
